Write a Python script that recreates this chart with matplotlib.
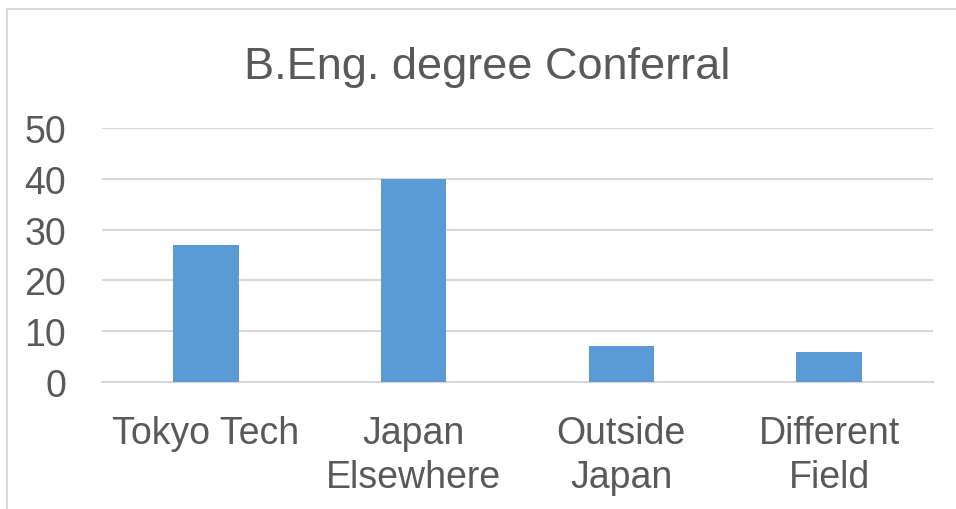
import matplotlib
matplotlib.use("Agg")
import matplotlib.pyplot as plt
from matplotlib.patches import Rectangle

# Data
categories = ["Tokyo Tech", "Japan\nElsewhere", "Outside\nJapan", "Different\nField"]
values = [27, 40, 7, 6]
yticks = [0, 10, 20, 30, 40, 50]

text_color = "#595959"
grid_color = "#d9d9d9"
bar_color = "#5b9bd5"

plt.rcParams['font.family'] = ['Liberation Sans', 'DejaVu Sans']

fig = plt.figure(figsize=(9.56, 5.10), dpi=100)

# light frame around the chart area (left/top edges visible)
fig.patches.append(Rectangle((7 / 956, -0.1), 1.2, 1 - 10 / 510 + 0.1,
                             transform=fig.transFigure, fill=False,
                             edgecolor=grid_color, linewidth=1.5))

ax = fig.add_axes([102 / 956, 1 - 383 / 510, (933 - 102) / 956, (383 - 129) / 510])

x = range(len(categories))
ax.bar(x, values, width=0.315, color=bar_color, zorder=3)

ax.set_xlim(-0.5, len(categories) - 0.5)
ax.set_ylim(0, 50)
ax.set_yticks(yticks)
ax.set_yticklabels([str(t) for t in yticks])
ax.set_xticks(list(x))
ax.set_xticklabels(categories, linespacing=1.27)

ax.grid(axis='y', color=grid_color, linewidth=1.5, zorder=0)
for s in ['top', 'right', 'left']:
    ax.spines[s].set_visible(False)
ax.spines['bottom'].set_color(grid_color)
ax.spines['bottom'].set_linewidth(1.5)

ax.tick_params(axis='both', length=0, labelsize=27, colors=text_color)
ax.tick_params(axis='y', pad=26)
ax.tick_params(axis='x', pad=24)

fig.text(487 / 956, 1 - 67 / 510, "B.Eng. degree Conferral", ha='center', va='center',
         fontsize=32.5, color=text_color)

fig.savefig("out.png", dpi=100)
